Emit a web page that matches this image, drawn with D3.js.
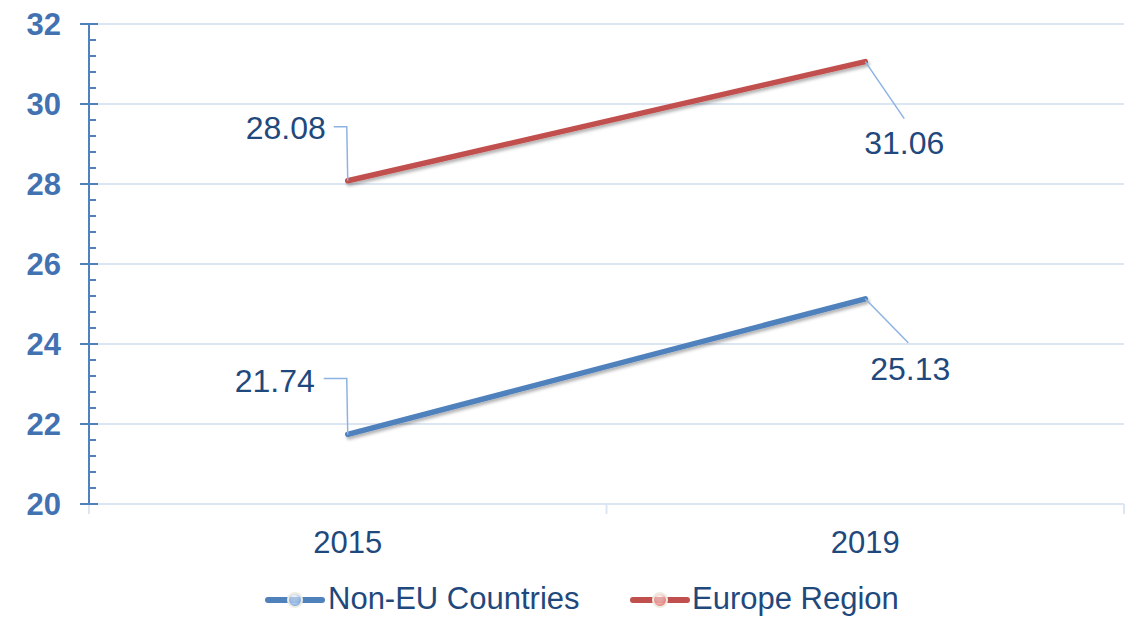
<!DOCTYPE html>
<html><head><meta charset="utf-8">
<script src="https://cdn.jsdelivr.net/npm/d3@7"></script>
<style>body{margin:0;background:#fff;}svg{display:block;font-family:"Liberation Sans",Arial,sans-serif;}</style>
</head><body>
<svg id="c" width="1129" height="617"></svg>
<script>
const categories = ["2015", "2019"];
const seriesNames = ["Non-EU Countries", "Europe Region"];
const nonEU = [21.74, 25.13];
const europe = [28.08, 31.06];
const yTicks = [20, 22, 24, 26, 28, 30, 32];
const colors = ["#4f81bd", "#c0504d"];
const markerFill = ["#6f9fe0", "#e5706c"];

const svg = d3.select("#c");
const m = {l: 89, r: 1124, t: 24, b: 504};
const x = d3.scaleBand().domain(categories).range([m.l, m.r]);
const y = d3.scaleLinear().domain([20, 32]).range([m.b, m.t]);

const defs = svg.append("defs");
const f = defs.append("filter").attr("id","sh").attr("x","-10%").attr("y","-50%").attr("width","120%").attr("height","200%");
f.append("feDropShadow").attr("dx",1.5).attr("dy",2.5).attr("stdDeviation",1.5).attr("flood-color","#000").attr("flood-opacity",0.3);
[0,1].forEach(i=>{
  const g = defs.append("radialGradient").attr("id","mg"+i).attr("cx","45%").attr("cy","35%").attr("r","60%");
  g.append("stop").attr("offset","0%").attr("stop-color","#fff").attr("stop-opacity",0.5);
  g.append("stop").attr("offset","100%").attr("stop-color",markerFill[i]);
});

// gridlines
svg.append("g").selectAll("line").data(yTicks).join("line")
  .attr("x1", m.l).attr("x2", m.r).attr("y1", d=>y(d)).attr("y2", d=>y(d))
  .attr("stroke", "#dce6f2").attr("stroke-width", 2);

// x axis ticks (category boundaries)
const bounds = [m.l, m.l + x.bandwidth(), m.r];
svg.append("g").selectAll("line").data(bounds).join("line")
  .attr("x1", d=>d).attr("x2", d=>d).attr("y1", y(20)).attr("y2", y(20)+10)
  .attr("stroke", "#dce6f2").attr("stroke-width", 2);

// y axis
const minor = d3.range(20, 32.001, 0.4).filter(v => Math.abs(v/2 - Math.round(v/2)) > 0.01);
const ya = svg.append("g");
ya.append("line").attr("x1", m.l).attr("x2", m.l).attr("y1", y(32)).attr("y2", y(20)).attr("stroke", "#4f81bd").attr("stroke-width", 2);
ya.selectAll(".mj").data(yTicks).join("line").attr("class","mj")
  .attr("x1", m.l-9).attr("x2", m.l+9).attr("y1", d=>y(d)).attr("y2", d=>y(d)).attr("stroke", "#4f81bd").attr("stroke-width", 2);
ya.selectAll(".mn").data(minor).join("line").attr("class","mn")
  .attr("x1", m.l).attr("x2", m.l+7).attr("y1", d=>y(d)).attr("y2", d=>y(d)).attr("stroke", "#4f81bd").attr("stroke-width", 2);
ya.selectAll("text").data(yTicks).join("text")
  .attr("x", 61).attr("y", d=>y(d)).attr("dy", "0.35em").attr("text-anchor", "end")
  .attr("font-size", 31).attr("font-weight", "bold").attr("fill", "#4372b2").text(d=>d);

// x labels
svg.append("g").selectAll("text").data(categories).join("text")
  .attr("x", d=>x(d)+x.bandwidth()/2).attr("y", 553).attr("text-anchor", "middle")
  .attr("font-size", 31).attr("fill", "#1f497d").text(d=>d);

// lines
const data = [nonEU, europe];
const line = d3.line().x((d,i)=>x(categories[i])+x.bandwidth()/2).y(d=>y(d));
data.forEach((s,i)=>{
  svg.append("path").attr("d", line(s)).attr("fill","none").attr("stroke", colors[i])
    .attr("stroke-width", 5.5).attr("stroke-linecap","round").attr("filter","url(#sh)");
});

// data labels with leader lines
const labelSpecs = [
  {s:0, i:0, tx:-73, ty:-54, leader:"elbow", lx:-24, ly:-56},
  {s:0, i:1, tx:45, ty:70, leader:"diag", lx:43, ly:44},
  {s:1, i:0, tx:-62, ty:-53, leader:"elbow", lx:-14, ly:-54},
  {s:1, i:1, tx:39, ty:81, leader:"diag", lx:39, ly:57}
];
labelSpecs.forEach(L=>{
  const v = data[L.s][L.i];
  const px = x(categories[L.i]) + x.bandwidth()/2, py = y(v);
  let p;
  if (L.leader === "elbow") {
    p = `M${px+L.lx},${py+L.ly} H${px-1} L${px},${py}`;
  } else {
    p = `M${px},${py} L${px+L.lx},${py+L.ly}`;
  }
  svg.append("path").attr("d", p).attr("fill","none").attr("stroke","#8db3e2").attr("stroke-width",1.5);
  svg.append("text").attr("x", px+L.tx).attr("y", py+L.ty).attr("dy","0.35em").attr("text-anchor","middle")
    .attr("font-size", 32).attr("fill","#1f497d").text(v.toFixed(2));
});

// legend
const leg = [{x:268, tx:328}, {x:633, tx:692}];
seriesNames.forEach((n,i)=>{
  const g = svg.append("g");
  const cy = 598;
  g.append("line").attr("x1", leg[i].x).attr("x2", leg[i].x+54).attr("y1", cy+2).attr("y2", cy+2)
    .attr("stroke", colors[i]).attr("stroke-width", 6).attr("stroke-linecap","round");
  g.append("circle").attr("cx", leg[i].x+27).attr("cy", cy+2).attr("r", 7)
    .attr("fill", `url(#mg${i})`).attr("stroke", "#eeece1").attr("stroke-width", 2);
  g.append("text").attr("x", leg[i].tx).attr("y", cy).attr("dy","0.35em")
    .attr("font-size", 31).attr("fill","#1f497d").text(n);
});
</script>
</body></html>
